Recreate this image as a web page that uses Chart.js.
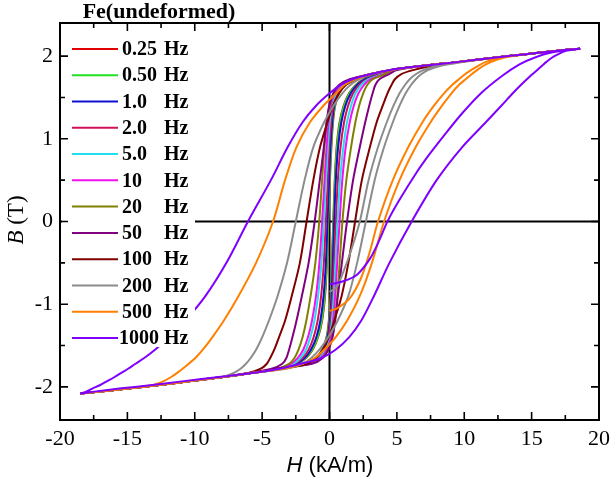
<!DOCTYPE html>
<html><head><meta charset="utf-8">
<script src="https://cdn.jsdelivr.net/npm/chart.js@4.4.1/dist/chart.umd.min.js"></script>
<style>html,body{margin:0;padding:0;background:#fff;}#wrap{width:616px;height:483px;position:relative;}</style>
</head><body><div id="wrap"><canvas id="c" width="616" height="483"></canvas></div>
<script>
// ---- data ----
const LEGEND_TITLE = 'Fe(undeformed)';
const FREQ_NUMS = ['0.25','0.50','1.0','2.0','5.0','10','20','50','100','200','500','1000'];
const X_TICKS = [-20,-15,-10,-5,0,5,10,15,20];
const X_MINOR = [-17.5,-12.5,-7.5,-2.5,2.5,7.5,12.5,17.5];
const Y_TICKS = [-2,-1,0,1,2];
const Y_MINOR = [-1.5,-0.5,0.5,1.5];

// B levels (T) at which H (kA/m) was read along each branch
const B_DOWN = [2.09,2.06,2.02,1.98,1.93,1.88,1.83,1.78,1.72,1.65,1.55,1.4,1.2,0.9,0.5,0,-0.5,-0.9,-1.2,-1.4,-1.55,-1.65,-1.72,-1.78,-1.83,-1.88,-1.93,-1.98,-2.02,-2.06,-2.08];
const B_UP = [-2.08,-2.06,-2.02,-1.98,-1.93,-1.88,-1.83,-1.78,-1.72,-1.65,-1.55,-1.4,-1.2,-0.9,-0.5,0,0.5,0.9,1.2,1.4,1.55,1.65,1.72,1.78,1.83,1.88,1.93,1.98,2.02,2.06,2.09];

const H_DOWN_025 = [18.6,16.6,14.4,12.2,9.6,6.8,4.5, 3.1,2.1,1.2,0.72,0.42,0.26,0.14,0.03,-0.08,-0.19,-0.33,-0.55,-0.85,-1.25,-1.75,-2.35,-3.7, -5.7,-7.9,-10.3,-12.8,-15.0,-17.2,-18.5];
const H_UP_025   = [-18.5,-17.2,-15.0,-12.8,-10.3,-7.9,-5.7, -3.8,-1.9,-1.02,-0.55,-0.22,-0.05,0.08,0.17,0.28,0.39,0.53,0.75,1.05,1.45,1.95,2.55,3.7, 4.5,6.8,9.6,12.2,14.4,16.6,18.6];
const H_DOWN_050 = [18.6,16.6,14.4,12.2,9.6,6.8,4.5, 3.1,2.05,1.18,0.7,0.4,0.24,0.12,0.01,-0.1,-0.21,-0.36,-0.58,-0.88,-1.28,-1.78,-2.4,-3.7, -5.7,-7.9,-10.3,-12.8,-15.0,-17.2,-18.5];
const H_UP_050   = [-18.5,-17.2,-15.0,-12.8,-10.3,-7.9,-5.7, -3.8,-1.85,-1.0,-0.52,-0.2,-0.02,0.1,0.19,0.3,0.41,0.56,0.78,1.08,1.48,1.98,2.6,3.75, 4.5,6.8,9.6,12.2,14.4,16.6,18.6];
const H_DOWN_1   = [18.6,16.6,14.4,12.2,9.6,6.8,4.5, 3.1,2.0,1.12,0.66,0.35,0.2,0.07,-0.03,-0.15,-0.27,-0.44,-0.68,-0.98,-1.38,-1.85,-2.45,-3.7, -5.7,-7.9,-10.3,-12.8,-15.0,-17.2,-18.5];
const H_UP_1     = [-18.5,-17.2,-15.0,-12.8,-10.3,-7.9,-5.7, -3.8,-1.8,-0.95,-0.48,-0.15,0.02,0.15,0.24,0.35,0.47,0.64,0.88,1.18,1.58,2.05,2.65,3.8, 4.5,6.8,9.6,12.2,14.4,16.6,18.6];
const H_DOWN_2   = [18.6,16.6,14.4,12.2,9.6,6.8,4.5, 3.1,1.9,1.05,0.6,0.28,0.12,-0.02,-0.13,-0.27,-0.42,-0.62,-0.88,-1.18,-1.55,-2.0,-2.6,-3.75, -5.7,-7.9,-10.3,-12.8,-15.0,-17.2,-18.5];
const H_UP_2     = [-18.5,-17.2,-15.0,-12.8,-10.3,-7.9,-5.7, -3.7,-1.7,-0.85,-0.4,-0.08,0.08,0.22,0.33,0.47,0.62,0.82,1.08,1.38,1.75,2.2,2.8,3.85, 4.5,6.8,9.6,12.2,14.4,16.6,18.6];
const H_DOWN_5   = [18.6,16.6,14.4,12.2,9.6,6.8,4.5, 3.05,1.8,0.95,0.5,0.18,0.02,-0.12,-0.26,-0.42,-0.6,-0.85,-1.12,-1.42,-1.75,-2.15,-2.7,-3.8, -5.7,-7.9,-10.3,-12.8,-15.0,-17.2,-18.5];
const H_UP_5     = [-18.5,-17.2,-15.0,-12.8,-10.3,-7.9,-5.7, -3.7,-1.6,-0.75,-0.3,0.02,0.18,0.32,0.45,0.6,0.78,1.03,1.3,1.6,1.93,2.35,2.9,3.9, 4.55,6.8,9.6,12.2,14.4,16.6,18.6];
const H_DOWN_10  = [18.6,16.6,14.4,12.2,9.6,6.8,4.5, 3.0,1.7,0.85,0.4,0.08,-0.08,-0.22,-0.37,-0.55,-0.75,-1.0,-1.3,-1.6,-1.95,-2.35,-2.85,-3.85, -5.75,-7.9,-10.3,-12.8,-15.0,-17.2,-18.5];
const H_UP_10    = [-18.5,-17.2,-15.0,-12.8,-10.3,-7.9,-5.7, -3.65,-1.5,-0.65,-0.2,0.12,0.28,0.42,0.57,0.75,0.95,1.2,1.5,1.8,2.15,2.55,3.05,4.0, 4.6,6.8,9.6,12.2,14.4,16.6,18.6];
const H_DOWN_20  = [18.6,16.6,14.4,12.2,9.6,6.8,4.5, 3.0,1.6,0.75,0.3,0.0,-0.2,-0.38,-0.55,-0.76,-1.05,-1.4,-1.72,-2.0,-2.3,-2.6,-3.0,-3.9, -5.8,-7.9,-10.3,-12.8,-15.0,-17.2,-18.5];
const H_UP_20    = [-18.5,-17.2,-15.0,-12.8,-10.3,-7.9,-5.7, -3.7,-1.4,-0.55,-0.1,0.2,0.4,0.58,0.75,0.96,1.25,1.6,1.92,2.2,2.5,2.8,3.2,4.1, 4.7,6.8,9.6,12.2,14.4,16.6,18.6];
const H_DOWN_50  = [18.6,16.6,14.4,12.2,9.6,6.8,4.5, 3.0,1.5,0.7,0.28,-0.02,-0.22,-0.42,-0.72,-1.1,-1.55,-2.05,-2.45,-2.75,-3.0,-3.2,-3.5,-4.3, -5.9,-7.9,-10.3,-12.8,-15.0,-17.2,-18.5];
const H_UP_50    = [-18.5,-17.2,-15.0,-12.8,-10.3,-7.9,-5.7, -4.1,-1.3,-0.5,-0.08,0.22,0.42,0.62,0.92,1.3,1.75,2.25,2.65,2.95,3.2,3.4,3.7,4.4, 5.0,6.9,9.6,12.2,14.4,16.6,18.6];
const H_DOWN_100 = [18.6,16.6,14.4,12.2,9.6,6.8,4.5, 3.0,1.9,1.2,0.7,0.25,-0.15,-0.7,-1.2,-1.7,-2.2,-2.8,-3.3,-3.75,-4.1,-4.4,-4.65,-5.1, -6.0,-7.9,-10.3,-12.8,-15.0,-17.2,-18.5];
const H_UP_100   = [-18.5,-17.2,-15.0,-12.8,-10.3,-7.9,-5.7, -3.6,-1.7,-1.0,-0.5,-0.05,0.35,0.9,1.4,1.9,2.4,3.0,3.5,3.95,4.3,4.6,4.85,5.3, 6.2,7.6,9.8,12.2,14.4,16.6,18.6];
const H_DOWN_200 = [18.6,16.6,14.4,12.2,9.6,6.8,4.5, 3.0,2.2,1.55,0.95,0.3,-0.4,-1.2,-1.85,-2.5,-3.15,-3.85,-4.5,-5.0,-5.45,-5.85,-6.2,-6.6, -7.1,-8.0,-10.3,-12.8,-15.0,-17.2,-18.5];
const H_UP_200   = [-18.5,-17.2,-15.0,-12.8,-10.3,-7.9,-5.7, -3.2,-2.0,-1.35,-0.75,-0.1,0.6,1.4,2.05,2.7,3.35,4.05,4.7,5.2,5.65,6.05,6.4,6.8, 7.3,8.2,10.0,12.3,14.4,16.6,18.6];
const H_DOWN_500 = [18.6,16.6,14.4,12.2,9.6,6.8,4.5, 3.0,1.9,1.1,0.5,-0.45,-1.45,-2.45,-3.3,-4.19,-5.45,-6.75,-7.85,-8.7,-9.4,-9.95,-10.45,-10.9, -11.3,-11.75,-12.3,-13.2,-15.0,-17.2,-18.5];
const H_UP_500   = [-18.5,-17.2,-15.0,-12.8,-10.3,-7.9,-5.7, -3.4,-2.0,-1.1,-0.4,0.45,1.3,2.25,3.15,4.05,5.2,6.4,7.5,8.35,9.05,9.6,10.1,10.55, 10.95,11.4,12.0,12.9,14.4,16.6,18.6];
const H_DOWN_1000= [18.6,16.6,14.4,12.2,9.6,6.8,4.4, 3.0,1.7,0.8,0.0,-1.0,-2.0,-3.1,-4.35,-6.05,-7.65,-9.2,-10.7,-11.9,-12.95,-13.75,-14.4,-14.95, -15.45,-15.95,-16.5,-17.05,-17.6,-18.1,-18.5];
const H_UP_1000  = [-18.5,-17.6,-15.6,-13.3,-10.8,-8.2,-5.6, -3.7,-2.1,-0.6,0.45,1.45,2.35,3.3,4.45,6.1,7.95,9.85,11.6,12.75,13.6,14.2,14.65,15.05, 15.4,15.75,16.1,16.5,16.95,17.5,18.6];

// first (initial) rising branches that start near H = 0
const B_INIT_200  = [-0.85,-0.8,-0.62,-0.35,0,0.5,0.9,1.2,1.4,1.55,1.65,1.72,1.78,1.83,1.88,1.93,1.98,2.02,2.06,2.09];
const H_INIT_200  = [0.0,0.5,1.0,1.6,2.25,2.9,3.6,4.25,4.75,5.2,5.6,5.95,6.4,6.95,7.9,9.8,12.2,14.4,16.6,18.6];
const B_INIT_500  = [-1.08,-1.05,-0.93,-0.68,-0.36,0,0.5,0.9,1.2,1.4,1.55,1.65,1.72,1.78,1.83,1.88,1.93,1.98,2.02,2.06,2.09];
const H_INIT_500  = [0.0,0.56,1.5,2.35,3.0,3.6,4.7,5.85,6.9,7.75,8.5,9.1,9.6,10.05,10.5,11.0,11.6,12.6,14.3,16.5,18.6];
const B_INIT_1000 = [-0.76,-0.72,-0.64,-0.44,-0.2,0,0.25,0.59,0.82,1.03,1.3,1.56,1.76,1.9,1.98,2.04,2.09];
const H_INIT_1000 = [0.0,1.08,2.06,3.04,3.77,4.3,5.15,6.45,7.45,8.45,9.8,11.3,12.8,14.1,15.2,16.4,18.6];

// ---- styles ----
const COLORS = ['#e00000','#22e022','#1010d0','#d0105a','#20e0f0','#f010f0','#808000','#800080','#800000','#8c8c8c','#ff8000','#7f00ff'];
const SERIF = 'Liberation Serif';

const BRANCHES = [
  [null, H_DOWN_025, H_UP_025],
  [null, H_DOWN_050, H_UP_050],
  [null, H_DOWN_1, H_UP_1],
  [null, H_DOWN_2, H_UP_2],
  [null, H_DOWN_5, H_UP_5],
  [null, H_DOWN_10, H_UP_10],
  [null, H_DOWN_20, H_UP_20],
  [null, H_DOWN_50, H_UP_50],
  [null, H_DOWN_100, H_UP_100],
  [[H_INIT_200, B_INIT_200], H_DOWN_200, H_UP_200],
  [[H_INIT_500, B_INIT_500], H_DOWN_500, H_UP_500],
  [[H_INIT_1000, B_INIT_1000], H_DOWN_1000, H_UP_1000]
];
function pts(H, B){ return H.map((h,i)=>({x:h, y:B[i]})); }

const datasets = BRANCHES.map((br, i) => {
  let d = [];
  if (br[0]) d = d.concat(pts(br[0][0], br[0][1]));
  d = d.concat(pts(br[1], B_DOWN), pts(br[2], B_UP));
  return {
    label: FREQ_NUMS[i] + ' Hz', data: d, showLine: true,
    borderColor: COLORS[i], backgroundColor: COLORS[i],
    borderWidth: 2, pointRadius: 0, tension: 0.3, fill: false,
    order: BRANCHES.length - 1 - i
  };
});

const decor = {
  id: 'decor',
  beforeDatasetsDraw(chart) {
    const {ctx, chartArea: a, scales: {x, y}} = chart;
    ctx.save();
    ctx.strokeStyle = '#000'; ctx.lineWidth = 2;
    const x0 = x.getPixelForValue(0), y0 = y.getPixelForValue(0);
    ctx.beginPath();
    ctx.moveTo(a.left, y0); ctx.lineTo(a.right, y0);
    ctx.moveTo(x0, a.top); ctx.lineTo(x0, a.bottom);
    ctx.stroke();
    ctx.restore();
  },
  afterDatasetsDraw(chart) {
    const {ctx, chartArea: a, scales: {x, y}} = chart;
    ctx.save();
    ctx.fillStyle = '#fff';
    ctx.fillRect(a.left + 2, 35, 133, 312);
    ctx.font = 'bold 20px "' + SERIF + '", serif';
    ctx.textBaseline = 'middle';
    FREQ_NUMS.forEach((n, i) => {
      const yy = 49 + i * 26.27;
      ctx.strokeStyle = COLORS[i]; ctx.lineWidth = 2;
      ctx.beginPath(); ctx.moveTo(72, yy); ctx.lineTo(118, yy); ctx.stroke();
      ctx.fillStyle = '#000';
      const w = ctx.measureText(n).width;
      ctx.textAlign = 'left';
      ctx.fillText(n, Math.min(122, 159 - w), yy + 1);
      ctx.fillText('Hz', 164, yy + 1);
    });
    ctx.font = 'bold 22px "' + SERIF + '", serif';
    ctx.textAlign = 'center';
    ctx.fillText(LEGEND_TITLE, 159, 12);
    ctx.strokeStyle = '#000'; ctx.lineWidth = 2;
    ctx.strokeRect(a.left, a.top, a.right - a.left, a.bottom - a.top);
    ctx.lineWidth = 1.6;
    ctx.beginPath();
    const tx = (vals, len) => vals.forEach(v => { const p = x.getPixelForValue(v);
      ctx.moveTo(p, a.bottom); ctx.lineTo(p, a.bottom - len);
      ctx.moveTo(p, a.top); ctx.lineTo(p, a.top + len); });
    const ty = (vals, len) => vals.forEach(v => { const p = y.getPixelForValue(v);
      ctx.moveTo(a.left, p); ctx.lineTo(a.left + len, p);
      ctx.moveTo(a.right, p); ctx.lineTo(a.right - len, p); });
    tx(X_TICKS, 8); tx(X_MINOR, 5); ty(Y_TICKS, 8); ty(Y_MINOR, 5);
    ctx.stroke();
    ctx.restore();
  },
  afterDraw(chart) {
    const {ctx} = chart;
    ctx.save();
    ctx.fillStyle = '#000';
    ctx.textBaseline = 'alphabetic';
    const fI = 'italic 22px "Liberation Sans", Arial, sans-serif';
    const fN = '22px "Liberation Sans", Arial, sans-serif';
    ctx.font = fI; const w1 = ctx.measureText('H').width;
    ctx.font = fN; const w2 = ctx.measureText(' (kA/m)').width;
    const sx = 330 - (w1 + w2) / 2;
    ctx.textAlign = 'left';
    ctx.font = fI; ctx.fillText('H', sx, 472);
    ctx.font = fN; ctx.fillText(' (kA/m)', sx + w1, 472);
    const gI = 'italic 23px "' + SERIF + '", serif';
    const gN = '23px "' + SERIF + '", serif';
    ctx.translate(23, 220); ctx.rotate(-Math.PI / 2);
    ctx.font = gI; const v1 = ctx.measureText('B').width;
    ctx.font = gN; const v2 = ctx.measureText(' (T)').width;
    const s = -(v1 + v2) / 2;
    ctx.font = gI; ctx.fillText('B', s, 0);
    ctx.font = gN; ctx.fillText(' (T)', s + v1, 0);
    ctx.restore();
  }
};

new Chart(document.getElementById('c'), {
  type: 'scatter',
  data: { datasets },
  options: {
    responsive: false, animation: false, devicePixelRatio: 1,
    layout: { padding: { top: 23, right: 12, left: 0, bottom: 0 } },
    plugins: { legend: { display: false }, tooltip: { enabled: false } },
    scales: {
      x: {
        type: 'linear', min: -20, max: 20,
        grid: { display: false, drawTicks: false }, border: { display: false },
        afterBuildTicks: s => { s.ticks = X_TICKS.map(v => ({ value: v })); },
        afterFit: s => { s.height = 63; },
        ticks: { autoSkip: false, maxRotation: 0, padding: 6, color: '#000',
          font: { family: SERIF, size: 22 } }
      },
      y: {
        type: 'linear', min: -2.4, max: 2.4,
        grid: { display: false, drawTicks: false }, border: { display: false },
        afterBuildTicks: s => { s.ticks = Y_TICKS.map(v => ({ value: v })); },
        afterFit: s => { s.width = 60; },
        ticks: { autoSkip: false, padding: 7, color: '#000',
          font: { family: SERIF, size: 22 } }
      }
    }
  },
  plugins: [decor]
});
</script></body></html>
